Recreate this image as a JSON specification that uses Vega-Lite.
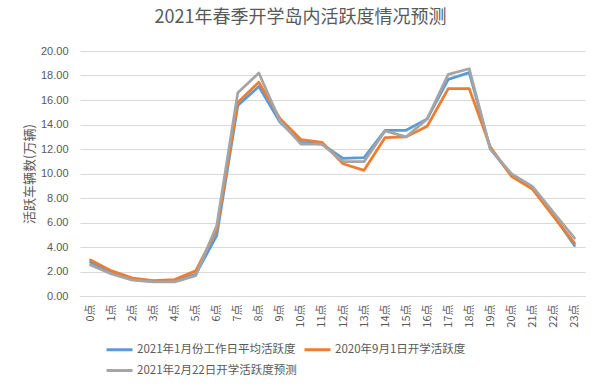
{
  "$schema": "https://vega.github.io/schema/vega-lite/v6.json",
  "width": 505,
  "height": 245,
  "autosize": {"type": "none"},
  "padding": {"left": 80, "top": 51, "right": 15, "bottom": 93},
  "background": "white",
  "title": {
    "text": "2021年春季开学岛内活跃度情况预测",
    "font": "Noto Sans CJK SC",
    "fontSize": 18,
    "fontWeight": "normal",
    "color": "#595959",
    "anchor": "middle",
    "dx": -32,
    "offset": 18
  },
  "data": {
    "values": [
      {"hour": "0点", "series": "2021年1月份工作日平均活跃度", "value": 2.76},
      {"hour": "1点", "series": "2021年1月份工作日平均活跃度", "value": 1.9},
      {"hour": "2点", "series": "2021年1月份工作日平均活跃度", "value": 1.36},
      {"hour": "3点", "series": "2021年1月份工作日平均活跃度", "value": 1.17},
      {"hour": "4点", "series": "2021年1月份工作日平均活跃度", "value": 1.23},
      {"hour": "5点", "series": "2021年1月份工作日平均活跃度", "value": 1.77},
      {"hour": "6点", "series": "2021年1月份工作日平均活跃度", "value": 4.94},
      {"hour": "7点", "series": "2021年1月份工作日平均活跃度", "value": 15.55},
      {"hour": "8点", "series": "2021年1月份工作日平均活跃度", "value": 17.1},
      {"hour": "9点", "series": "2021年1月份工作日平均活跃度", "value": 14.2},
      {"hour": "10点", "series": "2021年1月份工作日平均活跃度", "value": 12.55},
      {"hour": "11点", "series": "2021年1月份工作日平均活跃度", "value": 12.4},
      {"hour": "12点", "series": "2021年1月份工作日平均活跃度", "value": 11.24},
      {"hour": "13点", "series": "2021年1月份工作日平均活跃度", "value": 11.3},
      {"hour": "14点", "series": "2021年1月份工作日平均活跃度", "value": 13.53},
      {"hour": "15点", "series": "2021年1月份工作日平均活跃度", "value": 13.53},
      {"hour": "16点", "series": "2021年1月份工作日平均活跃度", "value": 14.46},
      {"hour": "17点", "series": "2021年1月份工作日平均活跃度", "value": 17.68},
      {"hour": "18点", "series": "2021年1月份工作日平均活跃度", "value": 18.23},
      {"hour": "19点", "series": "2021年1月份工作日平均活跃度", "value": 12.0},
      {"hour": "20点", "series": "2021年1月份工作日平均活跃度", "value": 9.88},
      {"hour": "21点", "series": "2021年1月份工作日平均活跃度", "value": 8.87},
      {"hour": "22点", "series": "2021年1月份工作日平均活跃度", "value": 6.58},
      {"hour": "23点", "series": "2021年1月份工作日平均活跃度", "value": 4.12},
      {"hour": "0点", "series": "2020年9月1日开学活跃度", "value": 2.95},
      {"hour": "1点", "series": "2020年9月1日开学活跃度", "value": 2.05},
      {"hour": "2点", "series": "2020年9月1日开学活跃度", "value": 1.47},
      {"hour": "3点", "series": "2020年9月1日开学活跃度", "value": 1.25},
      {"hour": "4点", "series": "2020年9月1日开学活跃度", "value": 1.34},
      {"hour": "5点", "series": "2020年9月1日开学活跃度", "value": 2.05},
      {"hour": "6点", "series": "2020年9月1日开学活跃度", "value": 5.4},
      {"hour": "7点", "series": "2020年9月1日开学活跃度", "value": 15.8},
      {"hour": "8点", "series": "2020年9月1日开学活跃度", "value": 17.46},
      {"hour": "9点", "series": "2020年9月1日开学活跃度", "value": 14.5},
      {"hour": "10点", "series": "2020年9月1日开学活跃度", "value": 12.77},
      {"hour": "11点", "series": "2020年9月1日开学活跃度", "value": 12.55},
      {"hour": "12点", "series": "2020年9月1日开学活跃度", "value": 10.8},
      {"hour": "13点", "series": "2020年9月1日开学活跃度", "value": 10.26},
      {"hour": "14点", "series": "2020年9月1日开学活跃度", "value": 12.93},
      {"hour": "15点", "series": "2020年9月1日开学活跃度", "value": 12.99},
      {"hour": "16点", "series": "2020年9月1日开学活跃度", "value": 13.86},
      {"hour": "17点", "series": "2020年9月1日开学活跃度", "value": 16.92},
      {"hour": "18点", "series": "2020年9月1日开学活跃度", "value": 16.92},
      {"hour": "19点", "series": "2020年9月1日开学活跃度", "value": 12.17},
      {"hour": "20点", "series": "2020年9月1日开学活跃度", "value": 9.77},
      {"hour": "21点", "series": "2020年9月1日开学活跃度", "value": 8.73},
      {"hour": "22点", "series": "2020年9月1日开学活跃度", "value": 6.5},
      {"hour": "23点", "series": "2020年9月1日开学活跃度", "value": 4.31},
      {"hour": "0点", "series": "2021年2月22日开学活跃度预测", "value": 2.54},
      {"hour": "1点", "series": "2021年2月22日开学活跃度预测", "value": 1.8},
      {"hour": "2点", "series": "2021年2月22日开学活跃度预测", "value": 1.3},
      {"hour": "3点", "series": "2021年2月22日开学活跃度预测", "value": 1.15},
      {"hour": "4点", "series": "2021年2月22日开学活跃度预测", "value": 1.15},
      {"hour": "5点", "series": "2021年2月22日开学活跃度预测", "value": 1.66},
      {"hour": "6点", "series": "2021年2月22日开学活跃度预测", "value": 5.76},
      {"hour": "7点", "series": "2021年2月22日开学活跃度预测", "value": 16.6},
      {"hour": "8点", "series": "2021年2月22日开学活跃度预测", "value": 18.2},
      {"hour": "9点", "series": "2021年2月22日开学活跃度预测", "value": 14.3},
      {"hour": "10点", "series": "2021年2月22日开学活跃度预测", "value": 12.4},
      {"hour": "11点", "series": "2021年2月22日开学活跃度预测", "value": 12.4},
      {"hour": "12点", "series": "2021年2月22日开学活跃度预测", "value": 10.97},
      {"hour": "13点", "series": "2021年2月22日开学活跃度预测", "value": 10.97},
      {"hour": "14点", "series": "2021年2月22日开学活跃度预测", "value": 13.48},
      {"hour": "15点", "series": "2021年2月22日开学活跃度预测", "value": 12.99},
      {"hour": "16点", "series": "2021年2月22日开学活跃度预测", "value": 14.46},
      {"hour": "17点", "series": "2021年2月22日开学活跃度预测", "value": 18.09},
      {"hour": "18点", "series": "2021年2月22日开学活跃度预测", "value": 18.55},
      {"hour": "19点", "series": "2021年2月22日开学活跃度预测", "value": 12.0},
      {"hour": "20点", "series": "2021年2月22日开学活跃度预测", "value": 9.99},
      {"hour": "21点", "series": "2021年2月22日开学活跃度预测", "value": 8.95},
      {"hour": "22点", "series": "2021年2月22日开学活跃度预测", "value": 6.82},
      {"hour": "23点", "series": "2021年2月22日开学活跃度预测", "value": 4.72}
    ]
  },
  "mark": {"type": "line", "strokeWidth": 2.75, "strokeCap": "round", "strokeJoin": "round"},
  "encoding": {
    "x": {
      "field": "hour",
      "type": "ordinal",
      "sort": null,
      "scale": {"type": "point", "padding": 0.5},
      "axis": {
        "title": null,
        "labelAngle": -90,
        "labelFont": "Noto Sans CJK SC",
        "labelFontSize": 11,
        "labelColor": "#595959",
        "labelPadding": 8,
        "ticks": false,
        "grid": false,
        "domain": true,
        "domainColor": "#D9D9D9",
        "domainWidth": 1
      }
    },
    "y": {
      "field": "value",
      "type": "quantitative",
      "scale": {"domain": [0, 20], "nice": false, "zero": true},
      "axis": {
        "title": "活跃车辆数(万辆)",
        "titleFont": "Noto Sans CJK SC",
        "titleFontSize": 13,
        "titleFontWeight": "normal",
        "titleColor": "#595959",
        "titlePadding": 4,
        "values": [0, 2, 4, 6, 8, 10, 12, 14, 16, 18, 20],
        "format": ".2f",
        "labelFont": "Liberation Sans",
        "labelFontSize": 11,
        "labelColor": "#595959",
        "labelPadding": 12,
        "ticks": false,
        "domain": false,
        "grid": true,
        "gridColor": "#D9D9D9",
        "gridWidth": 1
      }
    },
    "color": {
      "field": "series",
      "type": "nominal",
      "sort": null,
      "scale": {
        "domain": ["2021年1月份工作日平均活跃度", "2020年9月1日开学活跃度", "2021年2月22日开学活跃度预测"],
        "range": ["#5B9BD5", "#ED7D31", "#A5A5A5"]
      },
      "legend": {
        "title": null,
        "orient": "none",
        "legendX": 25,
        "legendY": 284,
        "direction": "horizontal",
        "columns": 2,
        "columnPadding": 1,
        "rowPadding": -3,
        "symbolType": "stroke",
        "symbolSize": 676,
        "symbolStrokeWidth": 3,
        "labelFont": "Noto Sans CJK SC",
        "labelFontSize": 11.5,
        "labelColor": "#595959",
        "labelOffset": 3,
        "labelLimit": 300
      }
    }
  },
  "config": {
    "view": {"stroke": null}
  }
}
